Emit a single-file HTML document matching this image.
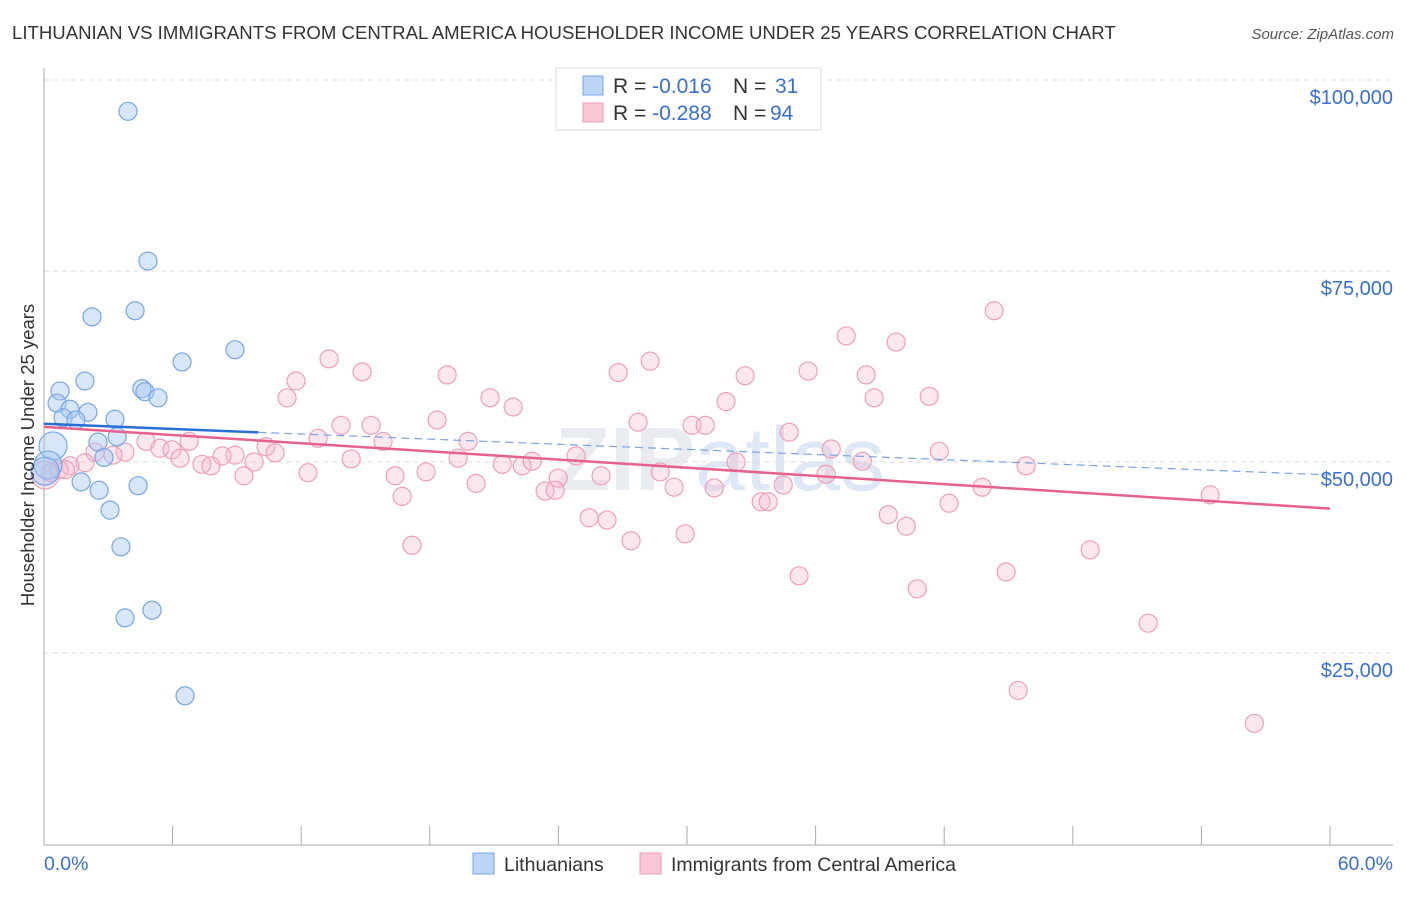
<!DOCTYPE html>
<html><head><meta charset="utf-8"><style>
body{margin:0;background:#fff;font-family:"Liberation Sans",sans-serif;}
</style></head><body>
<svg id="c" width="1406" height="892" xmlns="http://www.w3.org/2000/svg" style="font-family:'Liberation Sans',sans-serif">
<text x="12" y="39" font-size="18.6" fill="#333">LITHUANIAN VS IMMIGRANTS FROM CENTRAL AMERICA HOUSEHOLDER INCOME UNDER 25 YEARS CORRELATION CHART</text>
<text x="1394" y="39" font-size="15" fill="#555" font-style="italic" text-anchor="end">Source: ZipAtlas.com</text>
<text x="720" y="490" font-size="90" fill="#e8ebf0" text-anchor="middle" font-weight="bold">ZIP<tspan fill="#dde7f5" font-weight="normal">atlas</tspan></text>
<g id="grid"></g>
<g id="axes"></g>
<g id="marks"></g>
<text transform="translate(34,455) rotate(-90)" font-size="18.5" fill="#333" text-anchor="middle">Householder Income Under 25 years</text>
<g>
<rect x="556" y="68" width="265" height="62" fill="#fff" stroke="#ddd"/>
<rect x="583" y="76" width="20" height="19" fill="#bcd4f5" stroke="#7aa6e6"/>
<rect x="583" y="103" width="20" height="19" fill="#f9c6d6" stroke="#ec9cb7"/>
<text x="613" y="93" font-size="21" fill="#333">R = <tspan fill="#3a6fd0">-0.016</tspan><tspan x="733">N = </tspan><tspan fill="#3a6fd0" x="775">31</tspan></text>
<text x="613" y="120" font-size="21" fill="#333">R = <tspan fill="#3a6fd0">-0.288</tspan><tspan x="733">N = </tspan><tspan fill="#3a6fd0" x="770">94</tspan></text>
</g>
<g>
<rect x="473" y="853" width="21" height="21" fill="#bcd4f5" stroke="#7aa6e6"/>
<text x="504" y="871" font-size="19.5" fill="#333">Lithuanians</text>
<rect x="640" y="853" width="21" height="21" fill="#f9c6d6" stroke="#ec9cb7"/>
<text x="671" y="871" font-size="19.5" fill="#333">Immigrants from Central America</text>
</g>
</svg>
<script>
const yTicks=[25000,50000,75000,100000];
const yTickLabels=["$25,000","$50,000","$75,000","$100,000"];
const xTicks=[0,6,12,18,24,30,36,42,48,54,60];
const xEndLabels=["0.0%","60.0%"];
const blueX=[3.92,4.85,2.24,4.25,6.44,8.91,1.91,0.75,0.61,4.57,4.71,5.32,1.21,2.05,0.89,1.49,3.31,3.41,2.52,0.42,2.8,0.19,1.73,2.57,4.39,3.08,3.59,3.78,5.04,6.58,0.05];
const blueY=[95.9,76.3,69.0,69.8,63.1,64.7,60.6,59.3,57.7,59.6,59.2,58.4,56.9,56.5,55.8,55.5,55.6,53.3,52.6,52.1,50.6,49.6,47.4,46.3,46.9,43.7,38.9,29.6,30.6,19.4,48.8];
const blueBig=[19,21,30];
const pinkX=[44.33,37.43,39.76,28.28,13.3,14.84,26.79,18.81,32.71,35.65,38.36,11.76,11.34,20.81,21.89,31.82,38.73,41.3,18.34,13.86,15.26,27.72,30.24,30.85,34.77,12.79,15.82,19.79,10.36,6.77,4.76,5.41,5.97,3.78,2.38,3.22,10.78,8.91,8.31,6.35,36.73,41.77,24.83,19.32,14.33,9.8,7.37,7.79,1.91,1.21,0.7,9.33,12.32,17.83,21.38,22.31,22.78,28.75,32.29,38.18,45.82,16.38,23.99,25.99,36.49,20.16,29.4,31.27,34.49,43.77,23.38,23.85,16.71,54.41,33.46,33.79,42.23,39.39,40.23,25.43,26.27,27.39,29.91,17.17,48.81,35.23,44.89,40.74,51.52,45.45,56.47,0.05,0.3,1.0];
const pinkY=[69.8,66.5,65.7,63.2,63.5,61.8,61.7,61.4,61.3,61.9,61.4,60.6,58.4,58.4,57.2,57.9,58.4,58.6,55.5,54.8,54.8,55.2,54.8,54.8,53.9,53.1,52.7,52.7,52.0,52.7,52.7,51.8,51.6,51.3,51.3,50.9,51.2,50.9,50.8,50.5,51.7,51.4,50.8,50.5,50.4,50.0,49.7,49.5,49.9,49.5,49.0,48.2,48.6,48.7,49.7,49.5,50.1,48.7,50.0,50.1,49.5,48.2,47.9,48.2,48.4,47.2,46.7,46.6,47.0,46.7,46.2,46.3,45.5,45.7,44.8,44.8,44.6,43.1,41.6,42.7,42.4,39.7,40.6,39.1,38.5,35.1,35.6,33.4,28.9,20.1,15.8,48.3,48.6,49.0];
const pinkBig=[91];
const blueTrend=[55.0,48.3]; const blueSolidEnd=10;
const pinkTrend=[54.6,43.9];
const NS="http://www.w3.org/2000/svg";
const X=p=>44+p/60*1286, Y=v=>80+(100000-v)*191/25000;
function mk(t,a,p){const e=document.createElementNS(NS,t);for(const k in a)e.setAttribute(k,a[k]);document.getElementById(p).appendChild(e);return e;}
yTicks.forEach((t,i)=>{
 const g=mk('line',{x1:44,x2:1393,y1:Y(t),y2:Y(t),stroke:'#ddd','stroke-dasharray':'5,4'},'grid');
 
 
 const l=mk('text',{x:1393,y:Y(t)+24,'font-size':20,fill:'#3a6fd0','text-anchor':'end'},'axes');l.textContent=yTickLabels[i];
 
 
});
mk('line',{x1:44,x2:44,y1:68,y2:845,stroke:'#aaa'},'axes');
mk('line',{x1:44,x2:1393,y1:845,y2:845,stroke:'#aaa'},'axes');
xTicks.forEach(t=>{const k=mk('line',{x1:X(t),x2:X(t),y1:826,y2:845,stroke:'#aaa'},'axes');
 
 });
const a=mk('text',{x:44,y:870,'font-size':19.5,fill:'#3a6fd0'},'axes');a.textContent=xEndLabels[0];


const b=mk('text',{x:1393,y:870,'font-size':19.5,fill:'#3a6fd0','text-anchor':'end'},'axes');b.textContent=xEndLabels[1];


pinkX.forEach((x,i)=>{const c=mk('circle',{cx:X(x),cy:Y(pinkY[i]*1000),r:pinkBig.includes(i)?14:9,fill:'rgba(246,186,208,0.35)',stroke:'#ee9fba','stroke-width':1.2},'marks');
 
 });
blueX.forEach((x,i)=>{const c=mk('circle',{cx:X(x),cy:Y(blueY[i]*1000),r:blueBig.includes(i)?14:9,fill:'rgba(166,199,242,0.45)',stroke:'#78a6e6','stroke-width':1.2},'marks');
 
 });
const bv=p=>blueTrend[0]+(blueTrend[1]-blueTrend[0])*p/60;
const t1=mk('line',{x1:X(0),y1:Y(bv(0)*1000),x2:X(blueSolidEnd),y2:Y(bv(blueSolidEnd)*1000),stroke:'#2a6fd6','stroke-width':2.5},'marks');


const t2=mk('line',{x1:X(blueSolidEnd),y1:Y(bv(blueSolidEnd)*1000),x2:X(60),y2:Y(bv(60)*1000),stroke:'#7aa3e0','stroke-width':1.2,'stroke-dasharray':'8,5'},'marks');


const t3=mk('line',{x1:X(0),y1:Y(pinkTrend[0]*1000),x2:X(60),y2:Y(pinkTrend[1]*1000),stroke:'#e5628d','stroke-width':2.5},'marks');


</script>
</body></html>
